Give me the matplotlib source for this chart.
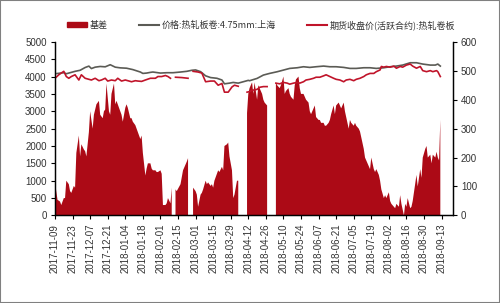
import numpy as np
import pandas as pd
import matplotlib
matplotlib.use('Agg')
import matplotlib.pyplot as plt
import matplotlib.dates as mdates
import matplotlib.patches as mpatches
from matplotlib.lines import Line2D

plt.rcParams['font.family'] = ['Liberation Sans', 'Noto Sans CJK SC']

nan = np.nan
start = pd.Timestamp('2017-11-09')

# 基差 (right axis), days since 2017-11-09
basis_day = [0, 2, 4, 5, 7, 8, 9, 11, 12, 13, 15, 16, 17, 19, 20, 21, 23, 24, 25, 27,
             28, 30, 31, 33, 35, 36, 38, 39, 40, 41, 43, 44, 45, 47, 48, 49, 50, 52, 53, 54,
             56, 57, 58, 60, 61, 62, 64, 65, 66, 68, 69, 70, 72, 73, 74, 76, 77, 78, 80, 81,
             82, 84, 85, 86, 88, 89, 90, 92, 93, 94, 96, 97, 100, 102, 105, 106, 107, 110, 112, 113,
             114, 116, 117, 118, 120, 121, 122, 124, 125, 126, 127, 129, 130, 131, 133, 134, 135, 137, 138, 139,
             141, 142, 143, 145, 146, 147, 153, 154, 155, 157, 158, 159, 161, 162, 163, 165, 166, 167, 169, 170,
             176, 177, 179, 180, 182, 183, 184, 186, 187, 188, 190, 191, 192, 194, 195, 196, 198, 199, 200, 202,
             203, 204, 206, 207, 208, 210, 211, 212, 214, 215, 216, 218, 219, 220, 222, 223, 224, 226, 227, 228,
             230, 231, 232, 234, 235, 236, 238, 239, 240, 242, 243, 244, 246, 247, 248, 250, 251, 252, 254, 255,
             256, 258, 259, 260, 262, 263, 264, 266, 267, 268, 270, 271, 272, 274, 275, 276, 277, 278, 279, 280,
             281, 283, 284, 285, 287, 288, 289, 291, 292, 293, 295, 296, 297, 299, 300, 301, 303, 304, 305, 306,
             307]
basis_val = [114, 54, 48, 36, 60, 60, 120, 108, 84, 78, 102, 96, 216, 276, 204, 246, 228, 222, 204, 288,
             360, 300, 348, 384, 396, 348, 336, 360, 366, 456, 360, 348, 420, 456, 384, 396, 384, 360, 348, 324,
             372, 384, 372, 336, 336, 324, 312, 300, 288, 264, 276, 216, 138, 162, 180, 180, 162, 156, 156, 150,
             150, 156, 144, 36, 36, 42, 60, 42, 96, nan, 90, 84, 108, 156, 186, 198, nan, 96, 84, 72,
             30, 72, 78, 90, 120, 108, 114, 102, 108, 96, 120, 144, 156, 150, 168, 156, 240, 246, 252, 204,
             156, 60, 72, 120, 120, nan, 354, 420, 440, 460, 420, 460, 400, 450, 440, 420, 400, 390, 380, nan,
             460, 450, 440, 450, 480, 420, 430, 440, 420, 410, 400, 450, 470, 480, 440, 420, 420, 410, 400, 390,
             360, 350, 370, 380, 340, 330, 330, 320, 320, 310, 310, 320, 330, 350, 380, 350, 380, 390, 380, 370,
             390, 360, 340, 300, 330, 320, 310, 320, 310, 300, 290, 270, 230, 200, 190, 170, 160, 200, 160, 150,
             160, 140, 120, 90, 60, 70, 60, 80, 50, 40, 30, 25, 40, 30, 70, 40, 20, 0, 40, 30,
             60, 25, 30, 50, 110, 140, 100, 160, 130, 200, 230, 240, 200, 210, 180, 210, 200, 220, 200, 190,
             330]

# 价格:热轧板卷:4.75mm:上海 (left axis)
spot_day = [0, 7, 9, 13, 16, 20, 24, 27, 29, 32, 36, 40, 44, 48, 52, 57, 62, 68, 70, 73,
            76, 78, 84, 89, 94, 100, 105, 109, 112, 116, 120, 124, 129, 133, 135, 139, 142, 146, 150, 154,
            155, 161, 166, 171, 177, 182, 187, 193, 198, 203, 208, 214, 219, 224, 230, 235, 240, 246, 251, 256,
            262, 267, 272, 277, 283, 288, 293, 299, 303, 305, 307]
spot_val = [4080, 4110, 4080, 4120, 4150, 4180, 4260, 4300, 4230, 4270, 4290, 4280, 4340, 4270, 4250, 4240, 4200, 4130, 4090, 4100,
            4120, 4130, 4100, 4110, 4110, 4130, 4150, 4180, 4190, 4140, 4020, 3970, 3950, 3900, 3790, 3810, 3830, 3810, 3850, 3890,
            3879, 3946, 4042, 4090, 4138, 4186, 4234, 4253, 4282, 4263, 4282, 4301, 4282, 4282, 4263, 4234, 4234, 4253, 4253, 4234,
            4253, 4282, 4301, 4330, 4397, 4397, 4359, 4330, 4330, 4359, 4301]

# 期货收盘价(活跃合约):热轧卷板 (left axis)
fut_day = [0, 3, 5, 7, 9, 11, 13, 16, 19, 21, 24, 27, 29, 32, 35, 37, 40, 42, 45, 48,
           50, 53, 56, 58, 61, 64, 66, 69, 72, 76, 80, 82, 85, 88, 90, 92, 94, 96, 101, 106,
           107, 110, 114, 117, 120, 124, 127, 130, 133, 135, 138, 141, 143, 146, 147, 153, 155, 157, 158, 161,
           163, 166, 169, 170, 176, 179, 182, 185, 187, 190, 193, 195, 198, 200, 203, 206, 208, 211, 214, 216,
           219, 222, 224, 227, 230, 232, 235, 238, 240, 243, 246, 248, 251, 254, 256, 259, 260, 262, 264, 267,
           270, 272, 275, 277, 280, 283, 285, 288, 291, 293, 296, 299, 301, 304, 305, 307]
fut_val = [3950, 4050, 4100, 4150, 4000, 3950, 4000, 4050, 3900, 4050, 3950, 3920, 3900, 3950, 3880, 3900, 3950, 3870, 3900, 3880,
           3950, 3870, 3900, 3880, 3850, 3880, 3870, 3860, 3900, 3950, 3950, 4000, 4000, 4030, 4000, 3950, nan, 3980, 3970, 3950,
           nan, 4150, 4130, 4100, 3850, 3870, 3870, 3750, 3800, 3550, 3550, 3700, 3750, 3720, nan, 3550, 3567, 3610, 3610, 3630,
           3690, 3710, 3710, nan, 3810, 3790, 3830, 3810, 3780, 3810, 3830, 3810, 3850, 3900, 3920, 3950, 3980, 3980, 4020, 4050,
           4000, 3950, 3920, 3900, 3850, 3900, 3920, 3880, 3920, 3950, 4000, 4050, 4090, 4090, 4140, 4190, 4290, 4270, 4290, 4270,
           4300, 4240, 4290, 4270, 4330, 4360, 4300, 4240, 4290, 4170, 4140, 4170, 4140, 4170, 4140, 4000]

basis_dates = start + pd.to_timedelta(basis_day, unit='D')
spot_dates = start + pd.to_timedelta(spot_day, unit='D')
fut_dates = start + pd.to_timedelta(fut_day, unit='D')

c_area = '#AC0A16'
c_spot = '#5B5B55'
c_fut = '#C0142A'
c_text = '#333333'

fig = plt.figure(figsize=(5, 3.03), dpi=100)
ax = fig.add_axes([0.11, 0.289, 0.795, 0.573])
ax2 = ax.twinx()

ax2.fill_between(basis_dates, 0, np.array(basis_val, dtype=float), color=c_area, lw=0)
ax.plot(spot_dates, spot_val, color=c_spot, lw=1.2)
ax.plot(fut_dates, fut_val, color=c_fut, lw=1.2)

# lines above the area
ax.set_zorder(ax2.get_zorder() + 1)
ax.patch.set_visible(False)

ax.set_ylim(0, 5000)
ax.set_yticks(np.arange(0, 5001, 500))
ax2.set_ylim(0, 600)
ax2.set_yticks(np.arange(0, 601, 100))

ticks = pd.date_range(start, '2018-09-13', freq='14D')
ax.set_xlim(start, start + pd.Timedelta(days=316.7))
ax.set_xticks(ticks)
ax.xaxis.set_major_formatter(mdates.DateFormatter('%Y-%m-%d'))
for lbl in ax.get_xticklabels():
    lbl.set_rotation(90)

for a in (ax, ax2):
    a.spines['top'].set_visible(False)
    for s in a.spines.values():
        s.set_color('#000000')
        s.set_linewidth(0.9)
    a.tick_params(length=3, width=0.8, color='#000000', labelsize=7, labelcolor=c_text, pad=3)

handles = [mpatches.Patch(color=c_area, label='基差'),
           Line2D([], [], color=c_spot, lw=1.5, label='价格:热轧板卷:4.75mm:上海'),
           Line2D([], [], color=c_fut, lw=1.5, label='期货收盘价(活跃合约):热轧卷板')]
fig.legend(handles=handles, loc='center', bbox_to_anchor=(0.522, 0.917), ncol=3,
           frameon=False, handlelength=2.2, handleheight=0.5, handletextpad=0.3,
           columnspacing=3.5, prop={'family': ['Noto Sans CJK SC'], 'size': 6.5},
           labelcolor=c_text)

fig.add_artist(mpatches.Rectangle((0, 0), 1, 1, transform=fig.transFigure, fill=False,
                                  ec='#808080', lw=1.5))

fig.savefig('out.png', dpi=100)
